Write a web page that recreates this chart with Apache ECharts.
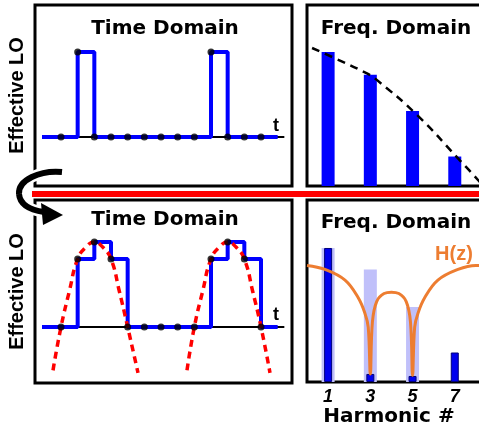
<!DOCTYPE html>
<html>
<head>
<meta charset="utf-8">
<script src="https://cdn.jsdelivr.net/npm/echarts@6/dist/echarts.min.js"></script>
<style>
html, body { margin: 0; padding: 0; background: #fff; }
#chart { width: 479px; height: 423px; }
</style>
</head>
<body>
<div id="chart"></div>
<script>
// time domain: sample index k, LO weight per sample
const sampleIdx = [0, 1, 2, 3, 4, 5, 6, 7, 8, 9, 10, 11, 12]
const loTop = [0, 1, 0, 0, 0, 0, 0, 0, 0, 1, 0, 0, 0]
const loBottom = [0, 0.8, 1, 0.8, 0, 0, 0, 0, 0, 0.8, 1, 0.8, 0]
const holdStart = -1.14
const holdEnd = 13
const timeAxisSpan = [-1.14, 13.4]

// red dashed sinusoid (k, value)
const sineLobe1 = [[-0.48, -0.51], [0, 0], [0.5, 0.42], [1, 0.8], [1.5, 0.94], [2, 1], [2.5, 0.94], [3, 0.8], [3.5, 0.42], [4, 0], [4.62, -0.54]]
const sineLobe2 = [[7.56, -0.51], [8, 0], [8.5, 0.42], [9, 0.8], [9.5, 0.94], [10, 1], [10.5, 0.94], [11, 0.8], [11.5, 0.42], [12, 0], [12.54, -0.54]]

// freq domain
const harmonics = [1, 3, 5, 7]
const loSpectrum = [1.0, 0.83, 0.56, 0.22]
const envX = [0.24, 1.23, 2.84, 3.32, 5.21, 7.25, 8.1, 8.6]
const envY = [1.03, 0.96, 0.84, 0.79, 0.53, 0.19, 0.045, -0.05]
const shadowHarmonics = [1, 3, 5]
const shadowSpectrum = [1.0, 0.84, 0.56]
const filteredSpectrum = [1.0, 0.06, 0.045, 0.22]
const hzX = [0, 0.85, 1.8, 2.42, 2.75, 2.9, 3.0, 3.1, 3.3, 3.65, 4.0, 4.35, 4.7, 4.9, 5.0, 5.1, 5.25, 5.58, 6.2, 7.15, 8.0, 8.6]
const hzY = [0.87, 0.84, 0.76, 0.63, 0.51, 0.41, 0.06, 0.45, 0.6, 0.66, 0.67, 0.66, 0.6, 0.45, 0.05, 0.41, 0.51, 0.63, 0.76, 0.84, 0.87, 0.86]

const blue = '#0000ff'
const titleFont = 'bold 20px "DejaVu Sans"'

const stepData = vals => [[holdStart, 0]].concat(sampleIdx.map((k, i) => [k, vals[i]]), [[holdEnd, vals[vals.length - 1]]])
const pairs = (xs, ys) => xs.map((x, i) => [x, ys[i]])

const frame = { show: true, borderColor: '#000', borderWidth: 3, backgroundColor: '#fff', outerBoundsMode: 'none', containLabel: false }
const hiddenAxis = { type: 'value', show: false }
const loAxis = (grid, min, max) => ({
  type: 'value', gridIndex: grid, min: min, max: max,
  axisLine: { show: false }, axisTick: { show: false }, axisLabel: { show: false }, splitLine: { show: false },
  name: 'Effective LO', nameLocation: 'middle', nameGap: 8,
  nameTextStyle: { fontFamily: 'Liberation Sans', fontWeight: 'bold', fontSize: 20, color: '#000' }
})

const timeSeries = (xi, yi, vals) => [
  { type: 'line', xAxisIndex: xi, yAxisIndex: yi, data: timeAxisSpan.map(x => [x, 0]), symbol: 'none', lineStyle: { color: '#000', width: 2 }, z: 1 },
  { type: 'line', xAxisIndex: xi, yAxisIndex: yi, data: stepData(vals), step: 'end', symbol: 'none', lineStyle: { color: blue, width: 4 }, z: 2 },
  { type: 'scatter', xAxisIndex: xi, yAxisIndex: yi, data: pairs(sampleIdx, vals), symbolSize: 7, itemStyle: { color: '#000' }, z: 5 }
]
const sineSeries = lobe => ({
  type: 'line', xAxisIndex: 2, yAxisIndex: 2, data: lobe, smooth: true, symbol: 'none',
  lineStyle: { color: '#ff0000', width: 3.5, type: [7, 5] }, z: 3
})

const chart = echarts.init(document.getElementById('chart'))
chart.setOption({
  animation: false,
  grid: [
    Object.assign({ left: 35, top: 5, width: 257, height: 181 }, frame),
    Object.assign({ left: 307, top: 5, width: 190, height: 181 }, frame),
    Object.assign({ left: 35, top: 200, width: 257, height: 183 }, frame),
    Object.assign({ left: 307, top: 200, width: 190, height: 182 }, frame)
  ],
  xAxis: [
    Object.assign({ gridIndex: 0, min: -1.56, max: 13.86 }, hiddenAxis),
    Object.assign({ gridIndex: 1, min: 0, max: 9 }, hiddenAxis),
    Object.assign({ gridIndex: 2, min: -1.56, max: 13.86 }, hiddenAxis),
    {
      type: 'value', gridIndex: 3, min: 0, max: 9,
      axisLine: { show: false }, axisTick: { show: false }, splitLine: { show: false },
      axisLabel: {
        customValues: harmonics, margin: 6,
        fontFamily: 'Liberation Sans', fontWeight: 'bold', fontStyle: 'italic', fontSize: 18, color: '#000'
      },
      name: 'Harmonic #', nameLocation: 'middle', nameGap: 21,
      nameTextStyle: { fontFamily: 'DejaVu Sans', fontWeight: 'bold', fontSize: 20, color: '#000', padding: [0, 26, 0, 0] }
    },
    Object.assign({ gridIndex: 3, min: 0, max: 9 }, hiddenAxis)
  ],
  yAxis: [
    loAxis(0, -0.576, 1.553),
    Object.assign({ gridIndex: 1, min: 0, max: 1.351 }, hiddenAxis),
    loAxis(2, -0.659, 1.494),
    Object.assign({ gridIndex: 3, min: 0, max: 1.358 }, hiddenAxis)
  ],
  series: [
    ...timeSeries(0, 0, loTop),
    ...timeSeries(2, 2, loBottom),
    sineSeries(sineLobe1),
    sineSeries(sineLobe2),
    { type: 'bar', xAxisIndex: 1, yAxisIndex: 1, data: pairs(harmonics, loSpectrum), barWidth: 13, itemStyle: { color: blue } },
    {
      type: 'line', xAxisIndex: 1, yAxisIndex: 1, data: pairs(envX, envY), smooth: true, symbol: 'none',
      lineStyle: { color: '#000', width: 2.5, type: [8, 6] }, z: 3
    },
    { type: 'bar', xAxisIndex: 4, yAxisIndex: 3, data: pairs(shadowHarmonics, shadowSpectrum), barWidth: 13, itemStyle: { color: '#c0c0fa' }, z: 1 },
    {
      type: 'bar', xAxisIndex: 3, yAxisIndex: 3, data: pairs(harmonics, filteredSpectrum), barWidth: 8,
      itemStyle: { color: '#0000ee', borderColor: '#00007a', borderWidth: 1 }, z: 2
    },
    {
      type: 'line', xAxisIndex: 3, yAxisIndex: 3, data: pairs(hzX, hzY), smooth: 0.4, symbol: 'none',
      lineStyle: { color: '#ed7d31', width: 3 }, z: 3
    }
  ],
  graphic: [
    { type: 'rect', z: 100, shape: { x: 32, y: 191, width: 460, height: 6 }, style: { fill: '#ff0000' } },
    // curved arrow between the two rows
    { type: 'bezierCurve', z: 100, shape: { x1: 62, y1: 172, cpx1: 40, cpy1: 170, cpx2: 18, cpy2: 180, x2: 19, y2: 194 }, style: { stroke: '#fff', lineWidth: 11, fill: null } },
    { type: 'bezierCurve', z: 100, shape: { x1: 19, y1: 194, cpx1: 20, cpy1: 205, cpx2: 30, cpy2: 210, x2: 44, y2: 212 }, style: { stroke: '#fff', lineWidth: 11, fill: null } },
    { type: 'bezierCurve', z: 101, shape: { x1: 62, y1: 172, cpx1: 40, cpy1: 170, cpx2: 18, cpy2: 180, x2: 19, y2: 194 }, style: { stroke: '#000', lineWidth: 6, fill: null } },
    { type: 'bezierCurve', z: 101, shape: { x1: 19, y1: 194, cpx1: 20, cpy1: 205, cpx2: 30, cpy2: 210, x2: 44, y2: 212 }, style: { stroke: '#000', lineWidth: 6, fill: null } },
    { type: 'polygon', z: 101, shape: { points: [[41, 203], [63, 215], [43, 225]] }, style: { fill: '#000' } },
    { type: 'text', z: 100, x: 165, y: 29, style: { text: 'Time Domain', font: titleFont, fill: '#000', align: 'center', verticalAlign: 'middle' } },
    { type: 'text', z: 100, x: 396, y: 29, style: { text: 'Freq. Domain', font: titleFont, fill: '#000', align: 'center', verticalAlign: 'middle' } },
    { type: 'text', z: 100, x: 165, y: 220, style: { text: 'Time Domain', font: titleFont, fill: '#000', align: 'center', verticalAlign: 'middle' } },
    { type: 'text', z: 100, x: 396, y: 223, style: { text: 'Freq. Domain', font: titleFont, fill: '#000', align: 'center', verticalAlign: 'middle' } },
    { type: 'text', z: 100, x: 276, y: 126, style: { text: 't', font: 'bold 18px "Liberation Sans"', fill: '#000', align: 'center', verticalAlign: 'middle' } },
    { type: 'text', z: 100, x: 276, y: 315, style: { text: 't', font: 'bold 18px "Liberation Sans"', fill: '#000', align: 'center', verticalAlign: 'middle' } },
    { type: 'text', z: 100, x: 454, y: 254, style: { text: 'H(z)', font: 'bold 20px "Liberation Sans"', fill: '#ed7d31', align: 'center', verticalAlign: 'middle' } }
  ]
})
</script>
</body>
</html>
